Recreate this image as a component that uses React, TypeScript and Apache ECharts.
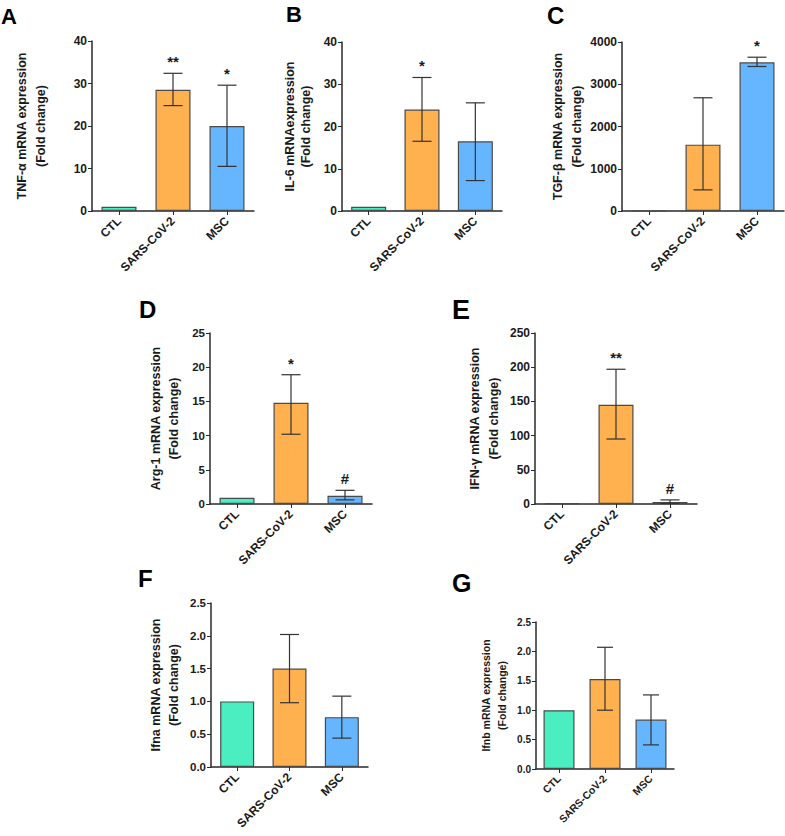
import React, { useEffect, useRef } from "react";
import * as echarts from "echarts";

const categories = ["CTL", "SARS-CoV-2", "MSC"];
const barColors = ["#4BEEC0", "#FFB04F", "#66B6FF"];

const tnfMean = [1, 28.5, 20];
const tnfLow = [1, 24.8, 10.5];
const tnfHigh = [1, 32.4, 29.6];
const tnfSig = ["", "**", "*"];

const il6Mean = [1, 24, 16.5];
const il6Low = [1, 16.5, 7.2];
const il6High = [1, 31.6, 25.6];
const il6Sig = ["", "*", ""];

const tgfMean = [1, 1570, 3520];
const tgfLow = [1, 500, 3420];
const tgfHigh = [1, 2680, 3640];
const tgfSig = ["", "", "*"];

const argMean = [0.9, 14.8, 1.2];
const argLow = [0.9, 10.2, 0.6];
const argHigh = [0.9, 18.9, 2.0];
const argSig = ["", "*", "#"];

const ifngMean = [1, 145, 3];
const ifngLow = [1, 95, 1];
const ifngHigh = [1, 197, 6];
const ifngSig = ["", "**", "#"];

const ifnaMean = [1.0, 1.5, 0.76];
const ifnaLow = [1.0, 0.98, 0.44];
const ifnaHigh = [1.0, 2.02, 1.08];
const ifnaSig = ["", "", ""];

const ifnbMean = [1.0, 1.53, 0.84];
const ifnbLow = [1.0, 1.0, 0.41];
const ifnbHigh = [1.0, 2.07, 1.26];
const ifnbSig = ["", "", ""];

const panelLetters = ["A", "B", "C", "D", "E", "F", "G"];
const panelTitles = [
  "TNF-α mRNA expression\n(Fold change)",
  "IL-6 mRNAexpression\n(Fold change)",
  "TGF-β mRNA expression\n(Fold change)",
  "Arg-1 mRNA expression\n(Fold change)",
  "IFN-γ mRNA expression\n(Fold change)",
  "Ifna mRNA expression\n(Fold change)",
  "Ifnb mRNA expression\n(Fold change)",
];
const panelMax = [40, 40, 4000, 25, 250, 2.5, 2.5];
const panelInterval = [10, 10, 1000, 5, 50, 0.5, 0.5];
const panelDecimals = [0, 0, 0, 0, 0, 1, 1];

const panelData = [
  { mean: tnfMean, low: tnfLow, high: tnfHigh, sig: tnfSig },
  { mean: il6Mean, low: il6Low, high: il6High, sig: il6Sig },
  { mean: tgfMean, low: tgfLow, high: tgfHigh, sig: tgfSig },
  { mean: argMean, low: argLow, high: argHigh, sig: argSig },
  { mean: ifngMean, low: ifngLow, high: ifngHigh, sig: ifngSig },
  { mean: ifnaMean, low: ifnaLow, high: ifnaHigh, sig: ifnaSig },
  { mean: ifnbMean, low: ifnbLow, high: ifnbHigh, sig: ifnbSig },
];

// layout (pixel geometry)
const layout = [
  { left: 92, top: 41, width: 162, height: 170, barWidth: 35, nameGap: 42, tickFont: 12, catFont: 12, nameFont: 12.5, lineH: 19, lx: 1, ly: 5, lsize: 22 },
  { left: 342, top: 42, width: 160, height: 169, barWidth: 35, nameGap: 28, tickFont: 12, catFont: 12, nameFont: 12.5, lineH: 16, lx: 286, ly: 3, lsize: 22 },
  { left: 622, top: 42, width: 162, height: 169, barWidth: 35, nameGap: 36, tickFont: 12, catFont: 12, nameFont: 12.5, lineH: 19, lx: 547, ly: 3, lsize: 24 },
  { left: 210, top: 333, width: 162, height: 171, barWidth: 35, nameGap: 27, tickFont: 11.5, catFont: 12, nameFont: 12.5, lineH: 18, lx: 139, ly: 297, lsize: 24 },
  { left: 535, top: 333, width: 162, height: 171, barWidth: 35, nameGap: 32, tickFont: 12, catFont: 12, nameFont: 12.5, lineH: 19, lx: 452, ly: 296, lsize: 27 },
  { left: 211, top: 603, width: 157, height: 164, barWidth: 34, nameGap: 28, tickFont: 11.5, catFont: 12, nameFont: 12.5, lineH: 18, lx: 138, ly: 566, lsize: 24 },
  { left: 536, top: 622, width: 138, height: 147, barWidth: 31, nameGap: 26, tickFont: 10, catFont: 10.5, nameFont: 10.5, lineH: 16, lx: 452, ly: 570, lsize: 25 },
];

const FONT = "'Liberation Sans', Arial, sans-serif";
const AXIS_COLOR = "#2a2a2a";
const TEXT_COLOR = "#1a1a1a";

function buildOption() {
  const grid: any[] = [];
  const xAxis: any[] = [];
  const yAxis: any[] = [];
  const series: any[] = [];
  const graphic: any[] = [];

  panelData.forEach((pd, i) => {
    const L = layout[i];
    grid.push({ left: L.left, top: L.top, width: L.width, height: L.height, containLabel: false });
    xAxis.push({
      type: "category",
      gridIndex: i,
      data: categories,
      axisLine: { show: true, lineStyle: { color: AXIS_COLOR, width: 1.5 } },
      axisTick: { show: true, alignWithLabel: true, length: 4, lineStyle: { color: AXIS_COLOR } },
      axisLabel: {
        rotate: 45,
        margin: 8,
        fontFamily: FONT,
        fontWeight: "bold",
        fontSize: L.catFont,
        color: TEXT_COLOR,
        interval: 0,
      },
      splitLine: { show: false },
    });
    const dec = panelDecimals[i];
    yAxis.push({
      type: "value",
      gridIndex: i,
      min: 0,
      max: panelMax[i],
      interval: panelInterval[i],
      name: panelTitles[i],
      nameLocation: "middle",
      nameRotate: 90,
      nameGap: L.nameGap,
      nameTextStyle: {
        fontFamily: FONT,
        fontWeight: "bold",
        fontSize: L.nameFont,
        lineHeight: L.lineH,
        color: TEXT_COLOR,
        align: "center",
      },
      axisLine: { show: true, lineStyle: { color: AXIS_COLOR, width: 1.5 } },
      axisTick: { show: true, length: 4, lineStyle: { color: AXIS_COLOR } },
      axisLabel: {
        margin: 5,
        fontFamily: FONT,
        fontWeight: "bold",
        fontSize: L.tickFont,
        color: TEXT_COLOR,
        formatter: (v: number) => v.toFixed(dec),
      },
      splitLine: { show: false },
    });
    series.push({
      type: "bar",
      xAxisIndex: i,
      yAxisIndex: i,
      barWidth: L.barWidth,
      data: pd.mean.map((v, k) => ({
        value: v,
        itemStyle: { color: barColors[k], borderColor: "#4a4a4a", borderWidth: 1.2 },
      })),
      z: 2,
    });
    const sig = pd.sig;
    const capHalf = i === 6 ? 8 : 9.5;
    series.push({
      type: "custom",
      xAxisIndex: i,
      yAxisIndex: i,
      z: 5,
      data: pd.mean.map((_, k) => [k, pd.low[k], pd.high[k]]),
      renderItem: (params: any, api: any) => {
        const x = api.value(0);
        const lo = api.value(1);
        const hi = api.value(2);
        const pTop = api.coord([x, hi]);
        const pBot = api.coord([x, lo]);
        const children: any[] = [];
        const ls = { stroke: "#333", lineWidth: 1.2 };
        if (hi !== lo) {
          children.push({ type: "line", shape: { x1: pTop[0], y1: pTop[1], x2: pBot[0], y2: pBot[1] }, style: ls });
          children.push({ type: "line", shape: { x1: pTop[0] - capHalf, y1: pTop[1], x2: pTop[0] + capHalf, y2: pTop[1] }, style: ls });
          children.push({ type: "line", shape: { x1: pBot[0] - capHalf, y1: pBot[1], x2: pBot[0] + capHalf, y2: pBot[1] }, style: ls });
        }
        const s = sig[params.dataIndex];
        if (s) {
          children.push({
            type: "text",
            style: {
              text: s,
              x: pTop[0],
              y: pTop[1] - 4,
              align: "center",
              verticalAlign: "bottom",
              fontFamily: FONT,
              fontWeight: "bold",
              fontSize: 15,
              fill: TEXT_COLOR,
            },
          });
        }
        return { type: "group", children };
      },
    });
    graphic.push({
      type: "text",
      left: L.lx,
      top: L.ly,
      style: {
        text: panelLetters[i],
        fontFamily: FONT,
        fontWeight: "bold",
        fontSize: L.lsize,
        fill: "#000",
      },
    });
  });

  return {
    animation: false,
    backgroundColor: "#ffffff",
    grid,
    xAxis,
    yAxis,
    series,
    graphic,
  };
}

export default function App() {
  const ref = useRef<HTMLDivElement>(null);
  useEffect(() => {
    if (!ref.current) return;
    const chart = echarts.init(ref.current, undefined, { renderer: "svg" });
    chart.setOption(buildOption() as any);
    return () => chart.dispose();
  }, []);
  return (
    <div
      ref={ref}
      style={{ position: "absolute", left: 0, top: 0, width: 785, height: 836, background: "#fff" }}
    />
  );
}
